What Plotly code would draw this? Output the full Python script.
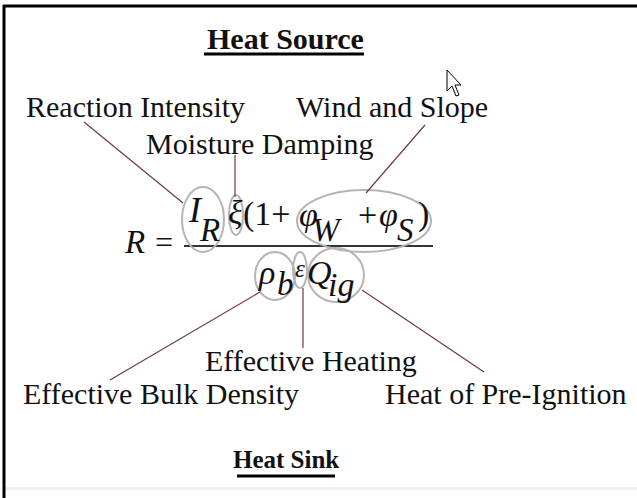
import plotly.graph_objects as go

# ---- content ----
headings = ["Heat Source", "Heat Sink"]
term_labels = ["Reaction Intensity", "Wind and Slope", "Moisture Damping",
               "Effective Heating", "Effective Bulk Density", "Heat of Pre-Ignition"]

# ---- layout positions (image pixel space, y downward) ----
heading_x = [285, 286]
heading_y = [38, 459]
heading_size = [30, 25]
label_x = [24, 294, 144, 203, 21, 383]
label_y = [106, 106, 143, 360, 393, 393]

# formula glyphs: text, x(left), y(center), size, italic
glyphs = [
    ("R", 122, 242, 33, True), ("=", 153, 242, 32, False),
    ("I", 186, 210, 36, True), ("R", 197, 230, 33, True),
    ("ξ", 226, 212, 34, True), ("(1+", 241, 214, 34, False),
    ("φ", 297, 214, 34, True), ("W", 310, 230, 33, True),
    ("+", 356, 214, 34, False), ("φ", 377, 214, 34, True),
    ("S", 395, 230, 33, True), (")", 416, 214, 34, False),
    ("ρ", 256, 272, 34, True), ("b", 275, 284, 33, True),
    ("ε", 293, 268, 25, True), ("Q", 305, 272, 34, True),
    ("ig", 326, 284, 34, True),
]

ellipses = [(182, 187, 224, 252), (229, 195, 243, 235), (297, 190, 431, 252),
            (255, 252, 295, 300), (293, 252, 307, 288), (308, 248, 364, 302)]
leaders = [((84, 122), (183, 203)), ((235, 155), (235, 197)), ((425, 125), (366, 193)),
           ((260, 292), (110, 380)), ((303, 288), (303, 348)), ((362, 290), (484, 372))]

FONT = "Liberation Serif"

fig = go.Figure()
fig.add_trace(go.Scatter(x=[0, 637], y=[0, 498], mode="markers",
                         marker=dict(opacity=0), hoverinfo="skip", showlegend=False))

ann = []
for t, x, y, s in zip(headings, heading_x, heading_y, heading_size):
    ann.append(dict(x=x, y=y, text=f"<b>{t}</b>", xanchor="center", yanchor="middle",
                    showarrow=False, font=dict(family=FONT, size=s, color="#111")))
for t, x, y in zip(term_labels, label_x, label_y):
    ann.append(dict(x=x, y=y, text=t, xanchor="left", yanchor="middle",
                    showarrow=False, font=dict(family=FONT, size=30, color="#111")))
for t, x, y, s, it in glyphs:
    txt = f"<i>{t}</i>" if it else t
    ann.append(dict(x=x, y=y, text=txt, xanchor="left", yanchor="middle",
                    showarrow=False, font=dict(family=FONT, size=s, color="#111")))

shapes = []
# frame
shapes.append(dict(type="line", x0=3, y0=6, x1=637, y1=6, line=dict(color="#000", width=3)))
shapes.append(dict(type="line", x0=4, y0=5, x1=4, y1=498, line=dict(color="#000", width=3)))
shapes.append(dict(type="rect", x0=6, y0=487, x1=637, y1=490, line=dict(width=0),
                   fillcolor="#f1f1f1"))
# heading underlines
shapes.append(dict(type="line", x0=204, y0=54, x1=364, y1=54, line=dict(color="#000", width=3)))
shapes.append(dict(type="line", x0=237, y0=476, x1=335, y1=476, line=dict(color="#000", width=3)))
# fraction bar
shapes.append(dict(type="line", x0=184, y0=246, x1=433, y1=246, line=dict(color="#333", width=2)))
for (x0, y0, x1, y1) in ellipses:
    shapes.append(dict(type="circle", x0=x0, y0=y0, x1=x1, y1=y1,
                       line=dict(color="#b4b4b4", width=2)))
for (a, b) in leaders:
    shapes.append(dict(type="line", x0=a[0], y0=a[1], x1=b[0], y1=b[1],
                       line=dict(color="#6e3a40", width=1.2)))
# mouse cursor
shapes.append(dict(type="path",
                   path="M447,70 L447,91 L452,86 L456,96 L459,95 L455,85 L461,85 Z",
                   fillcolor="#fff", line=dict(color="#000", width=1)))

fig.update_layout(
    width=637, height=498, margin=dict(l=0, r=0, t=0, b=0),
    paper_bgcolor="#fff", plot_bgcolor="#fff",
    xaxis=dict(range=[0, 637], visible=False, fixedrange=True),
    yaxis=dict(range=[498, 0], visible=False, fixedrange=True),
    annotations=ann, shapes=shapes, showlegend=False,
)
fig.write_html("out.html", config={"displayModeBar": False},
               post_script="document.body.style.margin='0';")
